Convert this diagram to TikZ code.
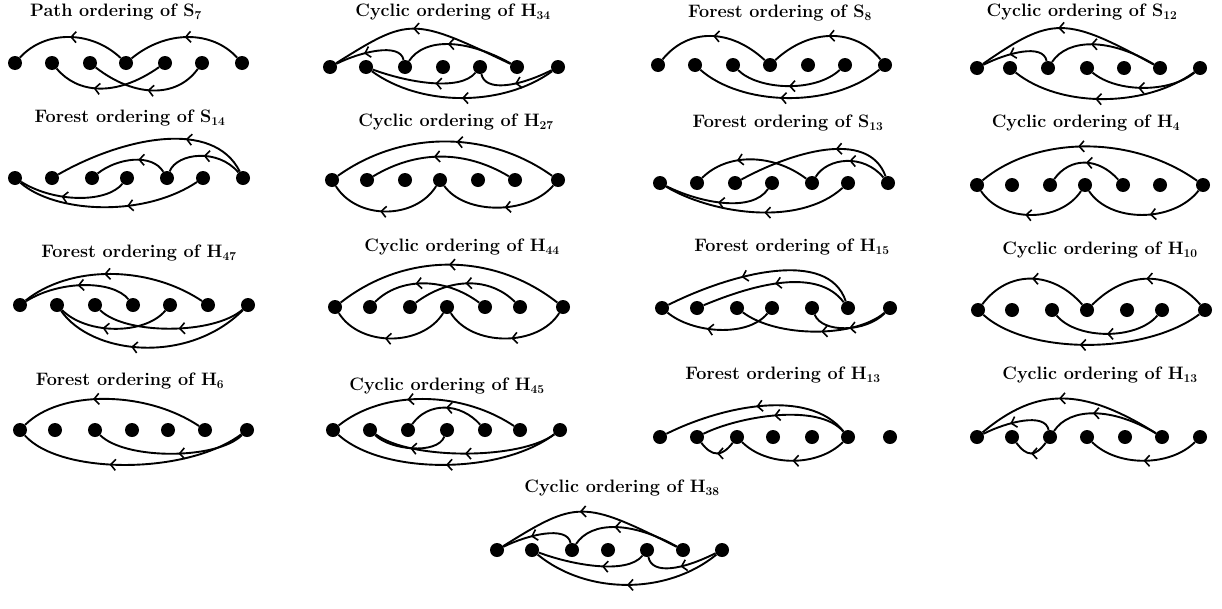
\documentclass[tikz,border=0pt]{standalone}
\usetikzlibrary{arrows.meta,decorations.markings}
\tikzset{
 dot/.style={circle,fill=black,inner sep=0pt,minimum size=14pt},
 ttl/.style={font=\bfseries\fontsize{18}{21}\selectfont},
 e/.style={line width=1.9pt, postaction={decorate}, decoration={markings, mark=at position #1 with {\arrow{Straight Barb[length=5pt,width=11pt,line width=1.6pt]}}}},
 e/.default=0.5
}
\newcommand\dotrow[3]{\foreach \xx [count=\ii] in {#3} {\node[dot] (#1\ii) at (\xx,#2) {};}}
\begin{document}
\begin{tikzpicture}[x=1pt,y=-1pt]
\fill[white] (0,0) rectangle (1222,608);
\useasboundingbox (0,0) rectangle (1222,608);
% titles
\node[ttl] (ta) at (116,12) {Path ordering of S$_{\mathbf{7}}$};
\node[ttl] (tb) at (453,12) {Cyclic ordering of H$_{\mathbf{34}}$};
\node[ttl] (tc) at (780,13) {Forest ordering of S$_{\mathbf{8}}$};
\node[ttl] (td) at (1082,12) {Cyclic ordering of S$_{\mathbf{12}}$};
\node[ttl] (te) at (130,118) {Forest ordering of S$_{\mathbf{14}}$};
\node[ttl] (tf) at (456,122) {Cyclic ordering of H$_{\mathbf{27}}$};
\node[ttl] (tg) at (788,123) {Forest ordering of S$_{\mathbf{13}}$};
\node[ttl] (th) at (1086,123) {Cyclic ordering of H$_{\mathbf{4}}$};
\node[ttl] (ti) at (139,253) {Forest ordering of H$_{\mathbf{47}}$};
\node[ttl] (tj) at (462,247) {Cyclic ordering of H$_{\mathbf{44}}$};
\node[ttl] (tk) at (792,247) {Forest ordering of H$_{\mathbf{15}}$};
\node[ttl] (tl) at (1100,250) {Cyclic ordering of H$_{\mathbf{10}}$};
\node[ttl] (tm) at (130,381) {Forest ordering of H$_{\mathbf{6}}$};
\node[ttl] (tn) at (447,386) {Cyclic ordering of H$_{\mathbf{45}}$};
\node[ttl] (to) at (783,375) {Forest ordering of H$_{\mathbf{13}}$};
\node[ttl] (tp) at (1100,375) {Cyclic ordering of H$_{\mathbf{13}}$};
\node[ttl] (tq) at (622,488) {Cyclic ordering of H$_{\mathbf{38}}$};
% A
\dotrow{a}{63}{15,52,90,126,165,202,242}
\draw[e] (a4) .. controls +(-35,-33) and +(30,-33) .. (a1);
\draw[e] (a7) .. controls +(-30,-33) and +(40,-33) .. (a4);
\draw[e=0.62] (a5) .. controls +(-50,35) and +(25,30) .. (a2);
\draw[e=0.5] (a6) .. controls +(-25,35) and +(45,35) .. (a3);
% B
\dotrow{b}{67}{330,366,405,443,480,517,558}
\draw[e=0.55] (b6) .. controls +(-105,-50) and +(80,-50) .. (b1);
\draw[e=0.6] (b3) .. controls +(-5,-25) and +(30,-15) .. (b1);
\draw[e=0.6] (b6) .. controls +(-50,-28) and +(20,-30) .. (b3);
\draw[e] (b7) .. controls +(-55,40) and +(55,40) .. (b2);
\draw[e=0.4] (b5) .. controls +(-20,25) and +(40,15) .. (b2);
\draw[e=0.5] (b7) .. controls +(-40,20) and +(5,25) .. (b5);
% C
\dotrow{c}{65}{658,695,733,770,808,845,885}
\draw[e] (c4) .. controls +(-40,-37) and +(30,-37) .. (c1);
\draw[e] (c7) .. controls +(-30,-37) and +(40,-37) .. (c4);
\draw[e] (c6) .. controls +(-30,28) and +(25,25) .. (c3);
\draw[e=0.55] (c7) .. controls +(-55,45) and +(45,40) .. (c2);
% D
\dotrow{d}{68}{977,1010,1048,1087,1124,1160,1200}
\draw[e=0.55] (d6) .. controls +(-95,-52) and +(75,-52) .. (d1);
\draw[e=0.6] (d6) .. controls +(-50,-30) and +(20,-30) .. (d3);
\draw[e=0.6] (d3) .. controls +(-5,-25) and +(30,-15) .. (d1);
\draw[e=0.55] (d7) .. controls +(-30,25) and +(30,25) .. (d4);
\draw[e=0.55] (d7) .. controls +(-55,40) and +(50,40) .. (d2);
% E
\dotrow{e}{178}{15,52,92,127,167,203,243}
\draw[e=0.33] (e7) .. controls +(-30,-60) and +(70,-40) .. (e2);
\draw[e=0.4] (e5) .. controls +(-15,-25) and +(25,-20) .. (e3);
\draw[e=0.5] (e7) .. controls +(-25,-30) and +(10,-25) .. (e5);
\draw[e=0.6] (e4) .. controls +(-20,25) and +(40,25) .. (e1);
\draw[e=0.4] (e6) .. controls +(-60,40) and +(40,35) .. (e1);
% F
\dotrow{f}{180}{332,367,405,440,478,515,558}
\draw[e=0.45] (f7) .. controls +(-70,-50) and +(70,-50) .. (f1);
\draw[e=0.55] (f6) .. controls +(-50,-30) and +(50,-30) .. (f2);
\draw[e=0.55] (f4) .. controls +(-25,40) and +(25,40) .. (f1);
\draw[e=0.45] (f7) .. controls +(-30,35) and +(25,35) .. (f4);
% G
\dotrow{g}{183}{660,697,735,772,812,848,888}
\draw[e=0.38] (g7) .. controls +(-20,-55) and +(55,-30) .. (g3);
\draw[e=0.65] (g5) .. controls +(-40,-30) and +(30,-30) .. (g2);
\draw[e=0.5] (g7) .. controls +(-25,-30) and +(15,-25) .. (g5);
\draw[e=0.5] (g4) .. controls +(-20,30) and +(40,20) .. (g1);
\draw[e=0.45] (g6) .. controls +(-50,45) and +(50,30) .. (g1);
% H
\dotrow{h}{185}{977,1012,1050,1085,1123,1160,1203}
\draw[e=0.55] (h7) .. controls +(-70,-50) and +(60,-50) .. (h1);
\draw[e=0.5] (h5) .. controls +(-25,-28) and +(20,-28) .. (h3);
\draw[e=0.55] (h4) .. controls +(-25,38) and +(25,38) .. (h1);
\draw[e=0.45] (h7) .. controls +(-30,38) and +(25,38) .. (h4);
% I
\dotrow{i}{305}{20,57,95,133,170,208,248}
\draw[e=0.55] (i6) .. controls +(-60,-40) and +(50,-40) .. (i1);
\draw[e=0.5] (i4) .. controls +(-20,-25) and +(40,-25) .. (i1);
\draw[e=0.6] (i5) .. controls +(-25,30) and +(30,30) .. (i2);
\draw[e=0.45] (i7) .. controls +(-35,30) and +(30,30) .. (i3);
\draw[e=0.6] (i7) .. controls +(-60,60) and +(35,50) .. (i2);
% J
\dotrow{j}{307}{335,370,410,447,485,520,563}
\draw[e] (j7) .. controls +(-70,-55) and +(70,-55) .. (j1);
\draw[e=0.6] (j5) .. controls +(-40,-30) and +(30,-30) .. (j2);
\draw[e=0.5] (j6) .. controls +(-30,-30) and +(40,-30) .. (j3);
\draw[e=0.55] (j4) .. controls +(-25,40) and +(25,40) .. (j1);
\draw[e=0.45] (j7) .. controls +(-25,40) and +(25,40) .. (j4);
% K
\dotrow{k}{308}{662,697,737,772,812,848,890}
\draw[e=0.6] (k6) .. controls +(-20,-60) and +(70,-35) .. (k1);
\draw[e=0.5] (k6) .. controls +(-30,-40) and +(60,-25) .. (k2);
\draw[e=0.6] (k4) .. controls +(-25,30) and +(30,25) .. (k1);
\draw[e=0.45] (k7) .. controls +(-35,30) and +(40,30) .. (k3);
\draw[e=0.5] (k7) .. controls +(-25,25) and +(10,25) .. (k5);
% L
\dotrow{l}{310}{978,1012,1052,1087,1127,1162,1205}
\draw[e] (l4) .. controls +(-35,-40) and +(30,-40) .. (l1);
\draw[e] (l7) .. controls +(-35,-40) and +(40,-40) .. (l4);
\draw[e] (l6) .. controls +(-25,30) and +(25,30) .. (l3);
\draw[e=0.55] (l7) .. controls +(-60,45) and +(50,45) .. (l1);
% M
\dotrow{m}{430}{20,55,95,132,168,205,247}
\draw[e=0.6] (m6) .. controls +(-60,-40) and +(40,-40) .. (m1);
\draw[e=0.6] (m7) .. controls +(-60,45) and +(40,45) .. (m1);
\draw[e=0.45] (m7) .. controls +(-30,30) and +(30,30) .. (m3);
% N
\dotrow{n}{430}{333,370,408,447,485,520,560}
\draw[e=0.6] (n6) .. controls +(-60,-40) and +(50,-40) .. (n1);
\draw[e=0.5] (n5) .. controls +(-25,-28) and +(20,-28) .. (n3);
\draw[e=0.5] (n7) .. controls +(-60,45) and +(50,45) .. (n1);
\draw[e=0.5] (n7) .. controls +(-40,30) and +(40,30) .. (n2);
\draw[e=0.5] (n4) .. controls +(-10,25) and +(20,20) .. (n2);
% O
\dotrow{o}{437}{660,697,737,773,812,848,890}
\draw[e=0.5] (o6) .. controls +(-40,-50) and +(60,-30) .. (o1);
\draw[e=0.5] (o6) .. controls +(-30,-35) and +(40,-20) .. (o2);
\draw[e=0.5] (o3) .. controls +(-15,20) and +(15,20) .. (o2);
\draw[e=0.5] (o6) .. controls +(-30,30) and +(30,30) .. (o3);
% P
\dotrow{p}{437}{977,1012,1050,1087,1125,1162,1200}
\draw[e=0.55] (p6) .. controls +(-80,-50) and +(60,-50) .. (p1);
\draw[e=0.6] (p3) .. controls +(-5,-25) and +(30,-15) .. (p1);
\draw[e=0.6] (p6) .. controls +(-50,-30) and +(20,-30) .. (p3);
\draw[e=0.5] (p3) .. controls +(-15,20) and +(15,20) .. (p2);
\draw[e=0.5] (p7) .. controls +(-30,30) and +(30,30) .. (p4);
% Q
\dotrow{q}{550}{497,532,572,608,647,683,722}
\draw[e=0.55] (q6) .. controls +(-100,-50) and +(80,-50) .. (q1);
\draw[e=0.6] (q3) .. controls +(-5,-25) and +(30,-15) .. (q1);
\draw[e=0.6] (q6) .. controls +(-50,-28) and +(20,-30) .. (q3);
\draw[e] (q7) .. controls +(-55,45) and +(55,45) .. (q2);
\draw[e=0.4] (q5) .. controls +(-20,25) and +(40,15) .. (q2);
\draw[e=0.5] (q7) .. controls +(-40,20) and +(5,25) .. (q5);
\end{tikzpicture}
\end{document}
